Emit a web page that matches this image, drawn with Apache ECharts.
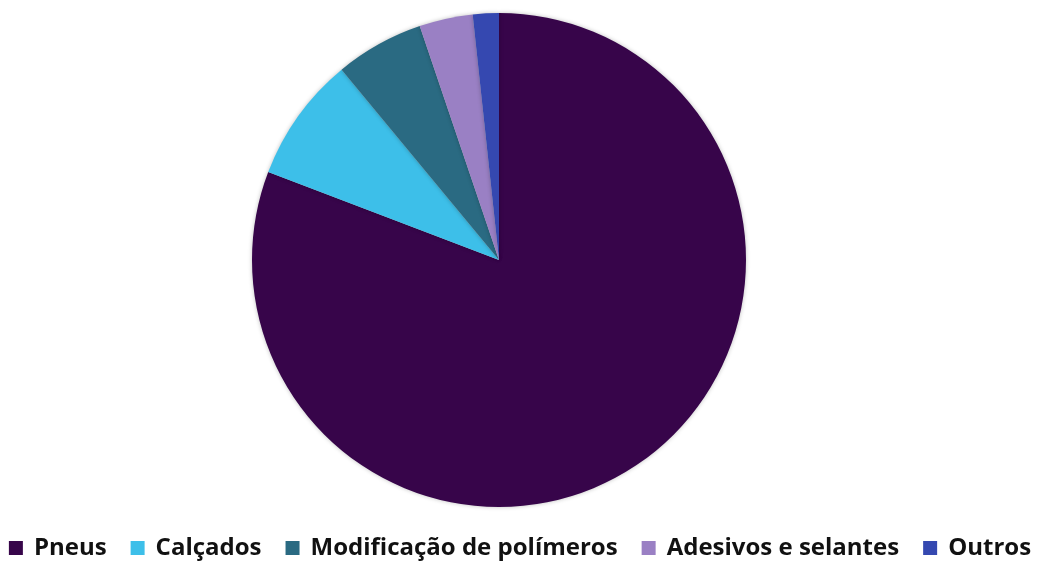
<!DOCTYPE html>
<html>
<head>
<meta charset="utf-8">
<script src="https://cdn.jsdelivr.net/npm/echarts@6/dist/echarts.min.js"></script>
<style>
html, body { margin: 0; padding: 0; background: #fff; }
#chart { width: 1040px; height: 561px; }
</style>
</head>
<body>
<div id="chart"></div>
<script>
// dados (percentual estimado)
const categories = ['Pneus', 'Calçados', 'Modificação de polímeros', 'Adesivos e selantes', 'Outros'];
const values = [80.8, 8.2, 5.8, 3.5, 1.7];
const colors = ['#37054a', '#3dbfe9', '#2a6a82', '#9a80c4', '#3548b0'];

const chart = echarts.init(document.getElementById('chart'));

chart.setOption({
  animation: false,
  color: colors,
  legend: {
    top: 531,
    left: 'center',
    itemWidth: 14,
    itemHeight: 14,
    itemGap: 24,
    icon: 'rect',
    textStyle: {
      fontFamily: 'Open Sans',
      fontWeight: 'bold',
      fontSize: 24,
      color: '#111',
      padding: [0, 0, 0, 6]
    },
    data: categories
  },
  series: [
    {
      type: 'pie',
      center: [499, 260],
      radius: 247,
      startAngle: 90,
      clockwise: true,
      label: { show: false },
      labelLine: { show: false },
      itemStyle: {
        borderWidth: 0,
        shadowBlur: 4,
        shadowColor: 'rgba(0,0,0,0.25)'
      },
      emphasis: { disabled: true },
      data: categories.map((name, i) => ({ name: name, value: values[i] }))
    }
  ]
});
</script>
</body>
</html>
